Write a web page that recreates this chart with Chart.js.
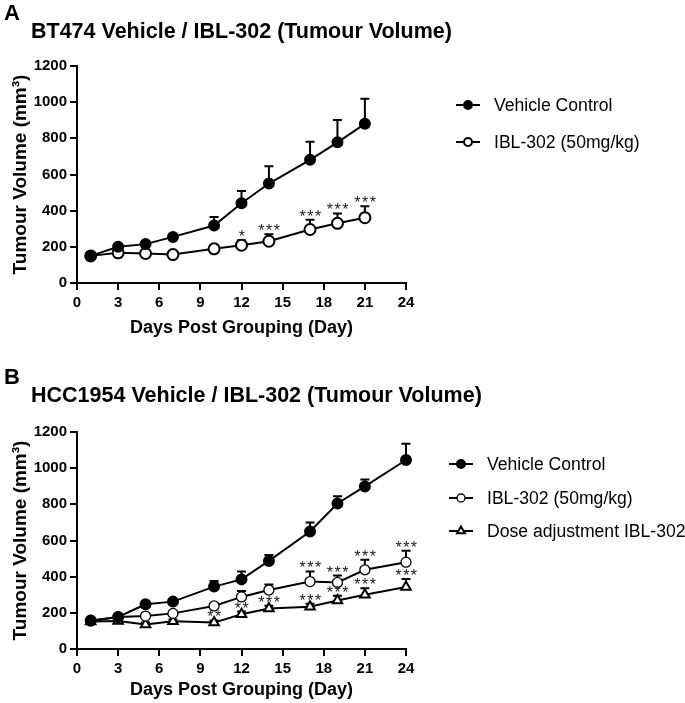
<!DOCTYPE html>
<html lang="en">
<head>
    <meta charset="UTF-8">
    <title>Tumour Volume</title>
    <script src="https://cdn.jsdelivr.net/npm/chart.js"></script>
    <style>
        body { margin: 0; background: #fff; }
        #app { position: relative; width: 685px; height: 703px; }
        #app canvas { position: absolute; left: 0; }
    </style>
</head>
<body>
    <div id="app">
        <canvas id="chartA" width="685" height="350" style="top:0"></canvas>
        <canvas id="chartB" width="685" height="353" style="top:350px"></canvas>
    </div>
    <script>
        // panel A - BT474
        const daysA = [1, 3, 5, 7, 10, 12, 14, 17, 19, 21];
        const vehicleA = [150, 200, 215, 255, 318, 441, 550, 681, 778, 880];
        const vehicleAErr = [8, 12, 14, 12, 47, 68, 96, 100, 124, 139];
        const iblA = [150, 167, 163, 157, 189, 209, 231, 296, 330, 361];
        const iblAErr = [8, 10, 10, 8, 16, 28, 39, 54, 55, 63];
        const iblAStars = ['', '', '', '', '', '*', '***', '***', '***', '***'];

        // panel B - HCC1954
        const daysB = [1, 3, 5, 7, 10, 12, 14, 17, 19, 21, 24];
        const vehicleB = [157, 177, 247, 262, 345, 385, 487, 650, 805, 899, 1045];
        const vehicleBErr = [8, 10, 12, 12, 31, 44, 33, 49, 40, 39, 90];
        const iblB = [155, 177, 182, 197, 238, 288, 326, 373, 368, 438, 480];
        const iblBErr = [8, 10, 10, 10, 12, 33, 30, 56, 38, 55, 63];
        const iblBStars = ['', '', '', '', '', '', '', '***', '***', '***', '***'];
        const doseB = [152, 155, 136, 153, 146, 192, 224, 234, 268, 300, 343];
        const doseBErr = [8, 8, 10, 10, 12, 15, 15, 16, 26, 36, 44];
        const doseBStars = ['', '', '', '', '**', '**', '***', '***', '***', '***', '***'];

        const xTicks = { min: 0, max: 24, step: 3 };
        const yTicks = { min: 0, max: 1200, step: 200 };

        const FONT = "'Liberation Sans', Arial, sans-serif";
        Chart.defaults.font.family = FONT;
        Chart.defaults.color = '#000';

        function toPoints(days, vals) {
            return days.map((d, i) => ({ x: d, y: vals[i] }));
        }

        function series(label, days, vals, errs, stars, style) {
            return {
                label: label,
                data: toPoints(days, vals),
                errors: errs,
                stars: stars,
                borderColor: '#000',
                borderWidth: 2,
                pointStyle: style.shape,
                pointRadius: style.radius,
                pointHoverRadius: style.radius,
                pointBorderWidth: style.border,
                pointBackgroundColor: style.fill,
                pointBorderColor: '#000',
                tension: 0,
                clip: false,
                legendRadius: style.legendRadius
            };
        }

        const filledDot = { shape: 'circle', radius: 5, border: 2, fill: '#000', legendRadius: 4 };
        const openDotA = { shape: 'circle', radius: 5.5, border: 2, fill: '#fff', legendRadius: 4 };
        const openDotB = { shape: 'circle', radius: 5, border: 1.3, fill: '#fff', legendRadius: 4 };
        const triangle = { shape: 'triangle', radius: 5.5, border: 2, fill: '#fff', legendRadius: 4.5 };

        // error bars (upper only) drawn under the markers, stars on top
        const errorBars = {
            id: 'errorBars',
            beforeDatasetsDraw(chart) {
                const ctx = chart.ctx;
                const xs = chart.scales.x, ys = chart.scales.y;
                ctx.save();
                ctx.strokeStyle = '#000';
                ctx.lineWidth = 2;
                chart.data.datasets.forEach(ds => {
                    ds.data.forEach((p, i) => {
                        const x = xs.getPixelForValue(p.x);
                        const y0 = ys.getPixelForValue(p.y);
                        const y1 = ys.getPixelForValue(p.y + ds.errors[i]);
                        ctx.beginPath();
                        ctx.moveTo(x, y0);
                        ctx.lineTo(x, y1);
                        ctx.moveTo(x - 4.5, y1);
                        ctx.lineTo(x + 4.5, y1);
                        ctx.stroke();
                    });
                });
                ctx.restore();
            },
            afterDatasetsDraw(chart) {
                const ctx = chart.ctx;
                const xs = chart.scales.x, ys = chart.scales.y;
                ctx.save();
                ctx.fillStyle = '#1a1a1a';
                ctx.font = '16px ' + FONT;
                ctx.textAlign = 'center';
                ctx.textBaseline = 'alphabetic';
                ctx.letterSpacing = '1.5px';
                chart.data.datasets.forEach(ds => {
                    ds.data.forEach((p, i) => {
                        const s = ds.stars ? ds.stars[i] : '';
                        if (!s) return;
                        const x = xs.getPixelForValue(p.x) + 1;
                        const y = ys.getPixelForValue(p.y + ds.errors[i]);
                        ctx.fillText(s, x, y + 2);
                    });
                });
                ctx.restore();
            }
        };

        // panel letter, title and legend
        const panelText = {
            id: 'panelText',
            afterDraw(chart, args, opts) {
                const ctx = chart.ctx;
                ctx.save();
                ctx.fillStyle = '#000';
                ctx.textAlign = 'left';
                ctx.textBaseline = 'alphabetic';
                ctx.font = 'bold 22px ' + FONT;
                ctx.fillText(opts.letter, 4, opts.letterY);
                ctx.font = 'bold 21.5px ' + FONT;
                ctx.fillText(opts.title, 31, opts.titleY);

                ctx.font = '17.6px ' + FONT;
                ctx.textBaseline = 'middle';
                chart.data.datasets.forEach((ds, i) => {
                    const y = opts.legendY[i];
                    ctx.strokeStyle = '#000';
                    ctx.lineWidth = 2;
                    ctx.beginPath();
                    ctx.moveTo(opts.legendX, y);
                    ctx.lineTo(opts.legendX + 24, y);
                    ctx.stroke();
                    ctx.fillStyle = ds.pointBackgroundColor;
                    ctx.lineWidth = ds.pointBorderWidth;
                    Chart.helpers.drawPoint(ctx, {
                        pointStyle: ds.pointStyle,
                        radius: ds.legendRadius,
                        rotation: 0,
                        borderWidth: ds.pointBorderWidth
                    }, opts.legendX + 12, y);
                    ctx.fillStyle = '#000';
                    ctx.fillText(ds.label, opts.legendX + 38, y + 1);
                });
                ctx.restore();
            }
        };

        function renderChart(id, datasets, layout, text) {
            const ctx = document.getElementById(id).getContext('2d');
            return new Chart(ctx, {
                type: 'line',
                data: { datasets: datasets },
                options: {
                    responsive: false,
                    animation: false,
                    devicePixelRatio: 1,
                    layout: { padding: layout.padding },
                    plugins: {
                        legend: { display: false },
                        tooltip: { enabled: false },
                        panelText: text
                    },
                    scales: {
                        x: {
                            type: 'linear',
                            min: xTicks.min,
                            max: xTicks.max,
                            ticks: { stepSize: xTicks.step, font: { size: 15, weight: 'bold' }, color: '#000', padding: 4 },
                            grid: { display: true, drawOnChartArea: false, drawTicks: true, tickLength: 7, color: '#000', lineWidth: 2 },
                            border: { display: true, color: '#000', width: 2 },
                            title: { display: true, text: 'Days Post Grouping (Day)', font: { size: 18, weight: 'bold' }, color: '#000', padding: 0 },
                            afterFit: s => { s.height = layout.xHeight; }
                        },
                        y: {
                            min: yTicks.min,
                            max: yTicks.max,
                            ticks: {
                                stepSize: yTicks.step,
                                font: { size: 15, weight: 'bold' },
                                color: '#000',
                                padding: 3,
                                callback: v => String(v)
                            },
                            grid: { display: true, drawOnChartArea: false, drawTicks: true, tickLength: 7, color: '#000', lineWidth: 2 },
                            border: { display: true, color: '#000', width: 2 },
                            title: { display: true, text: 'Tumour Volume (mm³)', font: { size: 19, weight: 'bold' }, color: '#000', padding: { top: 9, bottom: 0 } },
                            afterFit: s => { s.width = 77; }
                        }
                    }
                },
                plugins: [errorBars, panelText]
            });
        }

        window.onload = function() {
            renderChart('chartA', [
                series('Vehicle Control', daysA, vehicleA, vehicleAErr, null, filledDot),
                series('IBL-302 (50mg/kg)', daysA, iblA, iblAErr, iblAStars, openDotA)
            ], {
                padding: { left: 0, top: 66, right: 279, bottom: 11 },
                xHeight: 56
            }, {
                letter: 'A', letterY: 20,
                title: 'BT474 Vehicle / IBL-302 (Tumour Volume)', titleY: 38,
                legendX: 456, legendY: [105, 142]
            });

            renderChart('chartB', [
                series('Vehicle Control', daysB, vehicleB, vehicleBErr, null, filledDot),
                series('IBL-302 (50mg/kg)', daysB, iblB, iblBErr, iblBStars, openDotB),
                series('Dose adjustment IBL-302', daysB, doseB, doseBErr, doseBStars, triangle)
            ], {
                padding: { left: 0, top: 82, right: 279, bottom: 2 },
                xHeight: 52
            }, {
                letter: 'B', letterY: 34,
                title: 'HCC1954 Vehicle / IBL-302 (Tumour Volume)', titleY: 52,
                legendX: 449, legendY: [114, 148, 181]
            });
        };
    </script>
</body>
</html>
